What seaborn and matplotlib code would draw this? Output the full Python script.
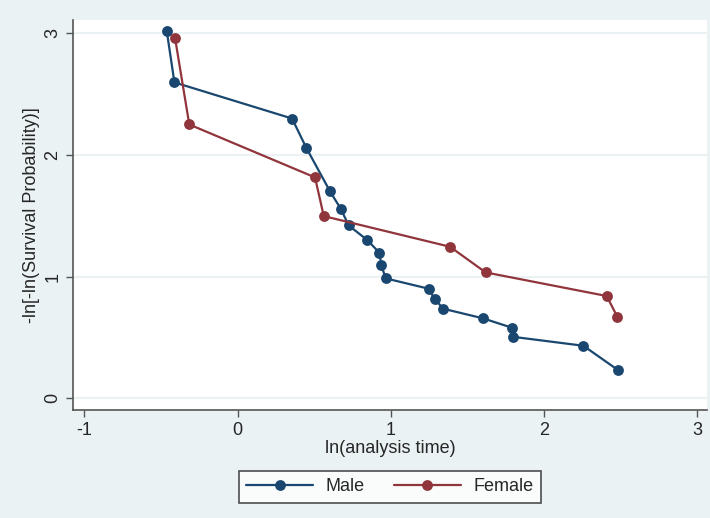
import numpy as np
import pandas as pd
import matplotlib
matplotlib.use("Agg")
import matplotlib.pyplot as plt
import seaborn as sns

# ln(analysis time) vs -ln[-ln(S)]
male_x = [-0.462, -0.412, 0.356, 0.449, 0.604, 0.674, 0.726, 0.847, 0.926, 0.939,
          0.967, 1.248, 1.287, 1.344, 1.604, 1.792, 1.796, 2.258, 2.483]
male_y = [3.02, 2.597, 2.30, 2.059, 1.701, 1.558, 1.421, 1.301, 1.197, 1.095,
          0.986, 0.901, 0.816, 0.736, 0.657, 0.580, 0.506, 0.432, 0.233]
female_x = [-0.408, -0.315, 0.506, 0.563, 1.387, 1.620, 2.410, 2.479]
female_y = [2.963, 2.251, 1.816, 1.498, 1.246, 1.035, 0.841, 0.671]
groups = ["Male", "Female"]
x_ticks = [-1, 0, 1, 2, 3]
y_ticks = [0, 1, 2, 3]

df = pd.concat([
    pd.DataFrame({"x": male_x, "y": male_y, "sex": "Male"}),
    pd.DataFrame({"x": female_x, "y": female_y, "sex": "Female"}),
], ignore_index=True)

sns.set_style("white")
plt.rcParams["font.family"] = ["Liberation Sans", "DejaVu Sans"]
plt.rcParams["axes.unicode_minus"] = False

bg = "#EAF2F3"
fig = plt.figure(figsize=(7.1, 5.18), dpi=100, facecolor=bg)
ax = fig.add_axes([0.1024, 0.2085, 0.8934, 0.7529])
ax.set_facecolor("white")

sns.lineplot(data=df, x="x", y="y", hue="sex", hue_order=groups,
             palette=["#1A476F", "#90353B"], sort=False, estimator=None,
             marker="o", markersize=7.8, markeredgewidth=0, linewidth=1.6,
             ax=ax, legend=False)

ax.set_xlim(-1.076, 3.065)
ax.set_ylim(-0.096, 3.11)
ax.set_xticks(x_ticks)
ax.set_yticks(y_ticks)
ax.grid(True, axis="y", color=bg, linewidth=1.5)
ax.set_axisbelow(True)
for s in ["top", "right"]:
    ax.spines[s].set_visible(False)
for s in ["left", "bottom"]:
    ax.spines[s].set_color("#555555")
    ax.spines[s].set_linewidth(1.2)
ax.tick_params(axis="both", direction="out", length=5, width=1, color="#555555",
               labelsize=13, left=True, bottom=True)
ax.tick_params(axis="y", pad=3)
for lab in ax.get_yticklabels():
    lab.set_rotation(90)
    lab.set_va("center")
ax.set_xlabel("ln(analysis time)", fontsize=13, labelpad=1)
ax.set_ylabel("-ln[-ln(Survival Probability)]", fontsize=13, labelpad=3)

handles, labels = ax.get_lines()[:2], groups
leg = fig.legend(handles, labels, loc="center", bbox_to_anchor=(0.549, 0.06),
                 ncol=2, frameon=True, fancybox=False, edgecolor="#222222",
                 fontsize=13, handlelength=3.7, columnspacing=1.6,
                 borderpad=0.4, handletextpad=0.7)
leg.get_frame().set_linewidth(1.2)

fig.savefig("out.png", dpi=100, facecolor=bg)
